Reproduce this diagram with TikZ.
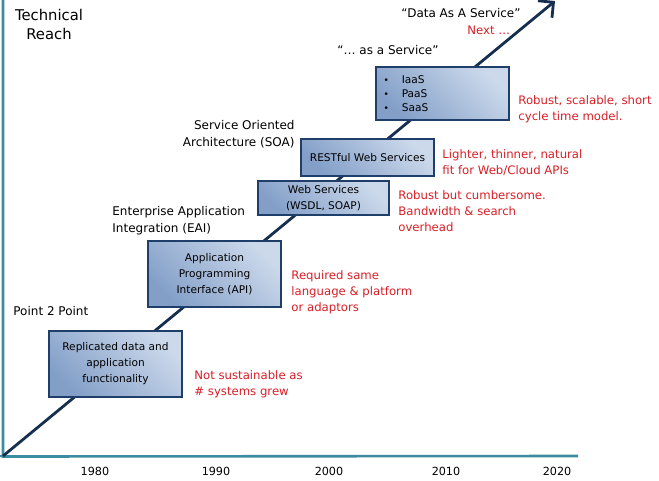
\documentclass[tikz,border=0pt]{standalone}
\usepackage{fontspec}
\setmainfont{DejaVu Sans}
\usepackage{tikz}
\usetikzlibrary{arrows.meta,positioning,shadings}

\definecolor{axisteal}{HTML}{3A8C9E}
\definecolor{arrownavy}{HTML}{172F4F}
\definecolor{boxedge}{HTML}{1F3F6A}
\definecolor{boxdark}{HTML}{839FC8}
\definecolor{boxlight}{HTML}{CCD9EB}
\definecolor{notered}{HTML}{D61E26}

\begin{document}
\begin{tikzpicture}[x=1pt, y=-1pt, thick,
    era/.style={draw=boxedge, line width=2.6pt, top color=boxlight, bottom color=boxdark,
        shading angle=-45, align=center, font=\fontsize{10.6}{16}\selectfont, inner sep=2pt},
    phase/.style={inner sep=0pt, font=\fontsize{12}{17}\selectfont},
    note/.style={inner sep=0pt, text=notered, align=left, font=\fontsize{11.7}{16}\selectfont},
    year/.style={inner sep=0pt, font=\fontsize{11.2}{13}\selectfont}]
    \useasboundingbox (0,0) rectangle (659,480);

    % Axes
    \coordinate (origin) at (3,456);
    \coordinate (ytop) at (3,0);
    \coordinate (xend) at (578,456);
    \draw[axisteal, line width=2.6pt] (ytop) -- (3,456.5) -- (xend);
    \draw[axisteal, line width=2.6pt] (0,456) -- (origin);

    % Trend arrow
    \coordinate (tip) at (555,1);
    \draw[arrownavy, line width=2.8pt, -{Straight Barb[length=11pt,width=22pt,line width=2.8pt]}] (origin) -- (tip);

    % Stages
    \node[era, minimum width=133pt, minimum height=66pt] (p2p) at (115.5,364) {Replicated data and\\application\\functionality};
    \node[era, minimum width=133pt, minimum height=66pt] (api) at (214.5,274) {Application\\Programming\\Interface (API)};
    \node[era, minimum width=131pt, minimum height=34pt] (ws) at (323.5,198) {Web Services\\(WSDL, SOAP)};
    \node[era, minimum width=133pt, minimum height=37pt] (rest) at (367.5,157.5) {RESTful Web Services};
    \node[era, minimum width=133pt, minimum height=53pt, align=left, text width=118pt,
        font=\fontsize{10.6}{14}\selectfont] (xaas) at (442.5,93.5)
        {{\small\textbullet}\hspace{13pt}IaaS\\{\small\textbullet}\hspace{13pt}PaaS\\{\small\textbullet}\hspace{13pt}SaaS};

    % Phase labels
    \node[phase, align=center, font=\fontsize{14.8}{19}\selectfont] (reach) at (49,24) {Technical\\Reach};
    \node[phase, anchor=west] (ptp) at (13,311) {Point 2 Point};
    \node[phase, anchor=west, align=left] (eai) at (112,221) {Enterprise Application\\Integration (EAI)};
    \node[phase, anchor=east, align=right] (soa) at (295,134) {Service Oriented\\Architecture (SOA)};
    \node[phase] (asvc) at (388,50) {“… as a Service”};
    \node[phase] (daas) at (461,13) {“Data As A Service”};

    % Notes
    \node[note, anchor=west] (next) at (467,30) {Next …};
    \node[note, anchor=west] (n5) at (518,109) {Robust, scalable, short\\cycle time model.};
    \node[note, anchor=west] (n4) at (442,163) {Lighter, thinner, natural\\fit for Web/Cloud APIs};
    \node[note, anchor=west] (n3) at (398,211) {Robust but cumbersome.\\Bandwidth \& search\\overhead};
    \node[note, anchor=west] (n2) at (291,292) {Required same\\language \& platform\\or adaptors};
    \node[note, anchor=west] (n1) at (194,384) {Not sustainable as\\\# systems grew};

    % Years
    \node[year] (y80) at (95,471) {1980};
    \node[year] (y90) at (216,471) {1990};
    \node[year] (y00) at (329,471) {2000};
    \node[year] (y10) at (446,471) {2010};
    \node[year] (y20) at (557,471) {2020};
\end{tikzpicture}
\end{document}
